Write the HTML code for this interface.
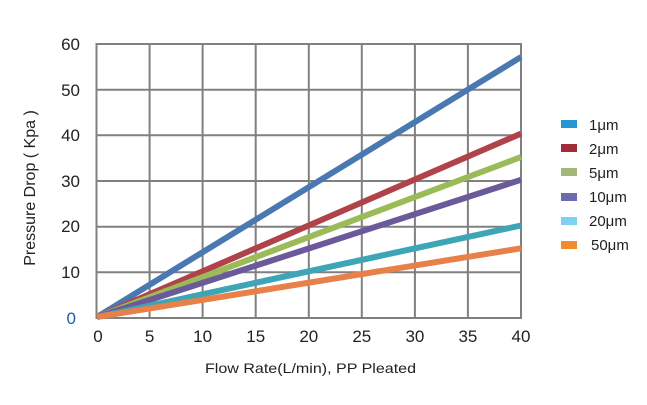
<!DOCTYPE html><html><head><style>body{margin:0;background:#fff;width:647px;height:400px;overflow:hidden}</style></head><body>
<svg width="647" height="400" xmlns="http://www.w3.org/2000/svg" font-family="Liberation Sans, sans-serif">
<g stroke="#808080" stroke-width="2" fill="none">
<rect x="96.5" y="44" width="424.5" height="274"/>
<path d="M149.6 44V318M202.6 44V318M255.7 44V318M308.8 44V318M361.8 44V318M414.9 44V318M467.9 44V318"/>
<path d="M96.5 89.7H521M96.5 135.3H521M96.5 181H521M96.5 226.7H521M96.5 272.3H521"/>
</g>
<g stroke-width="6" stroke-linecap="butt">
<line x1="97" y1="317" x2="521" y2="57" stroke="#4a78b0"/>
<line x1="97" y1="317" x2="521" y2="133.6" stroke="#b0434a"/>
<line x1="97" y1="317" x2="521" y2="157" stroke="#9bbb59"/>
<line x1="97" y1="317" x2="521" y2="179.8" stroke="#6a5a9a"/>
<line x1="97" y1="317" x2="521" y2="225.5" stroke="#3da5b5"/>
<line x1="97" y1="317" x2="521" y2="248.3" stroke="#e8804a"/>
</g>
<g font-size="17" fill="#222" text-anchor="end">
<text x="80" y="50">60</text><text x="80" y="96">50</text><text x="80" y="141">40</text>
<text x="80" y="187">30</text><text x="80" y="232">20</text><text x="80" y="278">10</text>
<text x="76" y="324" fill="#1f5fa0">0</text>
</g>
<g font-size="17" fill="#222" text-anchor="middle">
<text x="98" y="342">0</text><text x="149.6" y="342">5</text><text x="202.6" y="342">10</text>
<text x="255.7" y="342">15</text><text x="308.8" y="342">20</text><text x="361.8" y="342">25</text>
<text x="414.9" y="342">30</text><text x="467.9" y="342">35</text><text x="521" y="342">40</text>
</g>
<text x="205" y="373" font-size="14" fill="#222" textLength="211" lengthAdjust="spacingAndGlyphs">Flow Rate(L/min), PP Pleated</text>
<text transform="translate(35,188) rotate(-90)" font-size="16" fill="#222" text-anchor="middle">Pressure Drop ( Kpa )</text>
<g font-size="15" fill="#222">
<rect x="561" y="120" width="16" height="8" fill="#2596d2"/><text x="589" y="130">1μm</text>
<rect x="561" y="144" width="16" height="8" fill="#a32a38"/><text x="589" y="154">2μm</text>
<rect x="561" y="168" width="16" height="8" fill="#a2b876"/><text x="589" y="178">5μm</text>
<rect x="561" y="193" width="16" height="8" fill="#6e6aaf"/><text x="589" y="202">10μm</text>
<rect x="561" y="217" width="16" height="8" fill="#7fd1f2"/><text x="589" y="226">20μm</text>
<rect x="561" y="241" width="16" height="8" fill="#f28a2e"/><text x="591" y="250">50μm</text>
</g>
</svg></body></html>
